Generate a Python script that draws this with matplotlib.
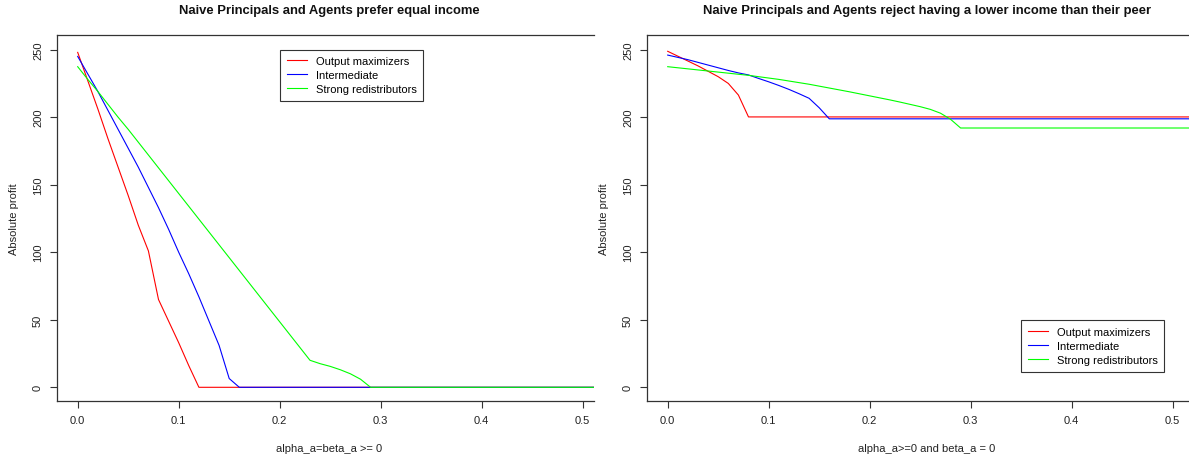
import matplotlib
matplotlib.use("Agg")
import matplotlib.pyplot as plt

plt.rcParams['font.family'] = ['Liberation Sans', 'DejaVu Sans']

W, H = 1189, 460

# left panel: alpha_a = beta_a >= 0
left_red_x = [0.0, 0.01, 0.02, 0.03, 0.04, 0.05, 0.06, 0.07, 0.08, 0.09, 0.10, 0.11, 0.12, 0.55]
left_red_y = [248, 227, 206, 184, 163, 142, 120, 101, 65, 49, 33, 16, 0, 0]

left_blue_x = [0.0, 0.01, 0.02, 0.03, 0.04, 0.05, 0.06, 0.07, 0.08, 0.09, 0.10, 0.11,
               0.12, 0.13, 0.14, 0.15, 0.16, 0.55]
left_blue_y = [245, 232, 219, 205, 191, 177, 163, 148, 133, 117, 100, 84, 67, 49, 31, 6.5, 0, 0]

left_green_x = [0.0, 0.01, 0.02, 0.03, 0.04, 0.05, 0.06, 0.07, 0.08, 0.09, 0.10, 0.11,
                0.12, 0.13, 0.14, 0.15, 0.16, 0.17, 0.18, 0.19, 0.20, 0.21, 0.22, 0.23,
                0.24, 0.25, 0.26, 0.27, 0.28, 0.29, 0.55]
left_green_y = [237.4, 228, 219, 209.5, 200, 191, 181.5, 172, 162.5, 153, 143.5, 134,
                124.5, 115, 105.5, 96, 86.5, 77, 67.5, 58, 48.5, 39, 29.5, 20,
                17.5, 15.5, 13, 10, 6, 0, 0]

# right panel: alpha_a >= 0, beta_a = 0
right_red_x = [0.0, 0.01, 0.02, 0.03, 0.04, 0.05, 0.06, 0.07, 0.08, 0.55]
right_red_y = [248.8, 245.2, 241.6, 238, 234, 230, 225, 216.4, 200.2, 200.2]

right_blue_x = [0.0, 0.01, 0.02, 0.03, 0.04, 0.05, 0.06, 0.07, 0.08, 0.09, 0.10, 0.11,
                0.12, 0.13, 0.14, 0.15, 0.16, 0.55]
right_blue_y = [246, 244.3, 242.6, 240.6, 238.6, 236.6, 234.6, 232.8, 231.3, 228.7, 226.2,
                223.5, 220.6, 217.4, 214, 207, 198.8, 198.8]

right_green_x = [0.0, 0.01, 0.02, 0.03, 0.04, 0.05, 0.06, 0.07, 0.08, 0.09, 0.10, 0.11,
                 0.12, 0.13, 0.14, 0.15, 0.16, 0.17, 0.18, 0.19, 0.20, 0.21, 0.22, 0.23,
                 0.24, 0.25, 0.26, 0.27, 0.28, 0.29, 0.55]
right_green_y = [237.4, 236.6, 235.8, 235, 234.2, 233.4, 232.6, 231.8, 231, 230, 229, 228,
                 226.8, 225.6, 224.4, 223, 221.6, 220.2, 218.8, 217.3, 215.8, 214.3, 212.8,
                 211.2, 209.5, 207.8, 205.8, 203, 198.5, 192, 192]

labels = ["Output maximizers", "Intermediate", "Strong redistributors"]
colors = ["#ff0000", "#0000ff", "#00ff00"]

titles = ["Naive Principals and Agents prefer equal income",
          "Naive Principals and Agents reject having a lower income than their peer"]
xlabels = ["alpha_a=beta_a >= 0", "alpha_a>=0 and beta_a = 0"]
xticks = [0.0, 0.1, 0.2, 0.3, 0.4, 0.5]
yticks = [0, 50, 100, 150, 200, 250]

fig = plt.figure(figsize=(W / 100, H / 100), dpi=100)

ax_edge = "#333333"
panels = [
    # left px, right px, x=0 px, centre px, legend box (left, top) px
    (57.3, 594.0, 77.7, 329.4, (280, 50.7)),
    (647.3, 1189.0, 667.7, 927.0, (1021, 321.3)),
]
series = [
    [(left_red_x, left_red_y), (left_blue_x, left_blue_y), (left_green_x, left_green_y)],
    [(right_red_x, right_red_y), (right_blue_x, right_blue_y), (right_green_x, right_green_y)],
]

top_px, bot_px = 36.0, 402.3
y0_px, px_per_y = 388.3, 1.3505
px_per_x = 1010.0

for i, (lpx, rpx, x0px, cpx, (lgx, lgy)) in enumerate(panels):
    ax = fig.add_axes([lpx / W, 1 - bot_px / H, (rpx - lpx) / W, (bot_px - top_px) / H])
    for (xs, ys), c, lab in zip(series[i], colors, labels):
        ax.plot(xs, ys, color=c, lw=0.8, label=lab)
    ax.set_xlim((lpx - x0px) / px_per_x, (rpx - x0px) / px_per_x)
    ax.set_ylim((y0_px - bot_px) / px_per_y, (y0_px - top_px) / px_per_y)
    ax.set_xticks(xticks)
    ax.set_xticklabels([f"{t:.1f}" for t in xticks])
    ax.set_yticks(yticks)
    ax.set_yticklabels([str(t) for t in yticks], rotation=90, va="center")
    ax.tick_params(direction="out", length=5.3, width=0.8, colors=ax_edge,
                   labelsize=8, labelcolor="#222222")
    ax.tick_params(axis="x", pad=4.5)
    ax.tick_params(axis="y", pad=5)
    for s in ["left", "top", "bottom"]:
        ax.spines[s].set_color(ax_edge)
        ax.spines[s].set_linewidth(0.9)
    ax.spines["right"].set_visible(False)

    fig.text(cpx / W, 1 - 10.7 / H, titles[i], ha="center", va="center",
             fontsize=9.4, fontweight="bold", color="#111111")
    fig.text(cpx / W, 1 - 449.3 / H, xlabels[i], ha="center", va="center",
             fontsize=8, color="#222222")
    fig.text((lpx - 43) / W, 1 - 219 / H, "Absolute profit", rotation=90,
             ha="center", va="center", fontsize=8, color="#222222")

    leg = ax.legend(loc="upper left", bbox_to_anchor=(lgx / W, 1 - lgy / H),
                    bbox_transform=fig.transFigure, borderaxespad=0,
                    fancybox=False, framealpha=1, edgecolor="#333333",
                    fontsize=8, handlelength=1.8, handletextpad=0.8,
                    labelspacing=0.36, borderpad=0.6)
    leg.get_frame().set_linewidth(0.8)

fig.savefig("out.png", dpi=100)
